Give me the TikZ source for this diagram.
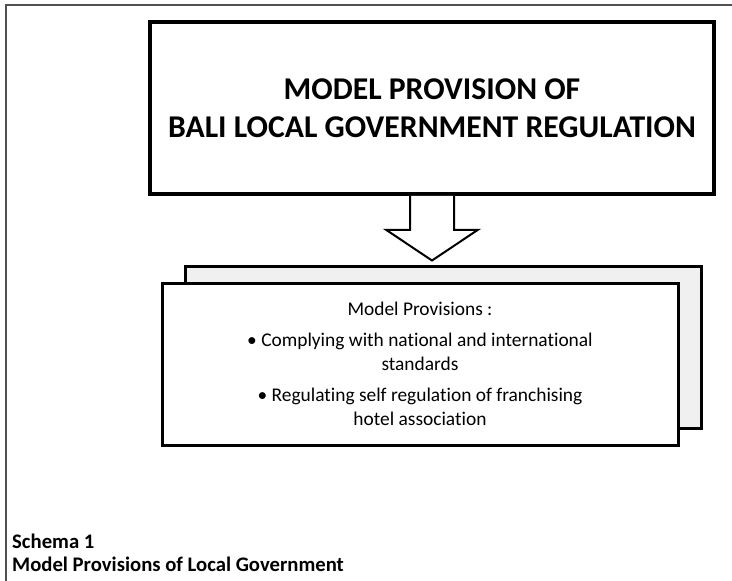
\documentclass[tikz,border=0pt]{standalone}
\usepackage{fontspec}
\setmainfont{Carlito}[Ligatures=CommonOff]
\usetikzlibrary{calc}
\definecolor{backgray}{HTML}{F0F0F0}
\definecolor{framegray}{HTML}{505050}
\tikzset{
  bigbox/.style={draw=black, line width=3.5pt, fill=white, rectangle, inner sep=0pt},
  provbox/.style={draw=black, line width=3pt, rectangle, inner sep=0pt, minimum width=516pt, minimum height=162pt},
  arrowline/.style={draw=black, line width=2pt, fill=white, line join=miter},
  frameline/.style={draw=framegray, line width=1.2pt},
  captext/.style={anchor=base west, inner sep=0pt, font=\bfseries\fontsize{20.7}{24}\selectfont}
}
\begin{document}
\begin{tikzpicture}[x=1pt,y=-1pt]
\useasboundingbox (0,0) rectangle (732,581);
\draw[frameline] (6,590) -- (6,5) -- (740,5);
\node[bigbox, minimum width=564pt, minimum height=172pt, align=center,
  font=\bfseries\fontsize{31.7}{38.5}\selectfont] (top) at (432,108)
  {MODEL PROVISION OF\\BALI LOCAL GOVERNMENT REGULATION};
\node[provbox, fill=backgray] (back) at (443,347) {};
\node[provbox, fill=white, align=center, font=\fontsize{19.4}{24}\selectfont] (front) at (420,364)
  {Model Provisions :\\[7pt]
   \textbullet\ Complying with national and international\\
   standards\\[7pt]
   \textbullet\ Regulating self regulation of franchising\\
   hotel association};
\draw[arrowline] ($(top.south)+(-22,0)$) -- ++(0,34) -- ++(-24,0)
  -- ($(back.north -| top.south)+(0,-4)$) -- ($(top.south)+(46,34)$)
  -- ++(-24,0) -- ($(top.south)+(22,0)$);
\node[captext] (cap1) at (12,548) {Schema 1};
\node[captext] (cap2) at (12,571) {Model Provisions of Local Government};
\end{tikzpicture}
\end{document}
